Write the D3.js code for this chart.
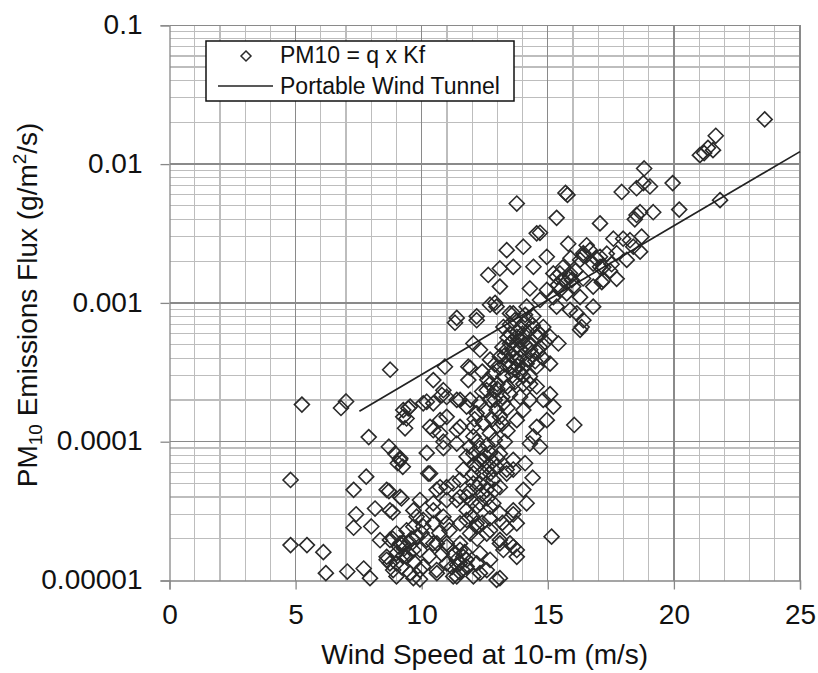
<!DOCTYPE html>
<html><head><meta charset="utf-8">
<script src="https://cdn.jsdelivr.net/npm/d3@7"></script>
<style>html,body{margin:0;padding:0;background:#fff;}svg{display:block;}text{font-family:"Liberation Sans",Arial,sans-serif;fill:#111;}</style>
</head><body>
<svg id="chart" width="818" height="673"></svg>
<script>
// ---- data ----
const xTickValues = [0, 5, 10, 15, 20, 25];
const yTickValues = [0.00001, 0.0001, 0.001, 0.01, 0.1];
const yTickLabels = ["0.00001", "0.0001", "0.001", "0.01", "0.1"];

const tunnelSpeed = [7.53, 10, 15, 20, 25];
const tunnelFlux = [1.66e-4, 3.05e-4, 1.05e-3, 3.59e-3, 1.23e-2];

const windSpeed = [
4.8,4.8,5.25,5.45,6.1,6.2,6.8,7.0,7.05,7.3,7.3,7.4,7.7,7.8,7.9,7.95,8.0,8.15,8.35,8.7,8.7,8.75,8.85,8.85,8.95,9.0,9.05,9.15,9.25,9.2,9.1,9.25,
9.27,9.47,9.4,9.34,10.46,10.2,10.8,10.92,11.85,11.85,11.52,10.99,10.46,10.2,10.26,10.86,10.73,11.52,11.39,12.05,11.78,11.65,12.05,12.31,12.71,12.84,12.58,12.05,11.25,10.73,10.46,10.99,11.52,11.78,12.31,12.84,13.1,13.37,13.63,13.63,13.37,13.77,13.5,13.1,12.71,12.18,11.52,10.99,10.46,10.06,9.8,9.8,9.4,9.14,9.0,9.4,9.93,10.46,10.99,11.52,11.78,11.52,12.18,12.58,13.1,12.05,11.25,10.6,9.93,9.67,9.0,8.74,8.61,15.15,16.05,14.03,14.16,
11.39,11.32,12.18,12.71,12.97,16.28,16.41,16.15,15.88,15.42,15.09,15.09,15.22,14.96,14.56,14.43,14.69,12.05,12.31,12.71,11.92,12.58,12.71,12.97,12.18,11.78,11.39,10.86,10.46,10.06,9.54,9.27,10.33,10.73,10.99,11.39,12.05,12.44,13.1,13.77,14.03,14.29,14.82,14.56,14.03,13.5,13.37,13.77,14.03,14.43,14.82,15.09,13.24,13.63,14.16,13.5,13.1,13.77,14.16,14.56,14.29,13.9,13.24,12.84,14.69,14.29,14.56,13.9,13.5,13.9,13.24,
13.77,15.7,15.78,15.35,17.07,14.56,15.81,16.54,14.03,13.37,14.96,14.43,13.63,13.1,12.64,13.1,14.29,15.35,15.88,16.41,17.07,17.6,17.2,16.8,16.28,16.8,16.34,15.35,15.75,12.18,12.91,11.92,13.5,14.69,14.96,
23.6,21.66,21.35,21.03,21.2,21.55,21.83,20.21,19.95,18.82,19.18,19.05,18.79,18.52,17.93,18.52,18.66,18.45,18.72,18.66,18.26,16.41,14.69,17.34,17.14,17.73,17.2,17.53,15.95,15.48,15.22,15.62,15.88,16.01,15.48,16.28,16.67,16.8,17.47,17.99,18.39,18.13,17.73,17.07,15.22,
9.14,10.33,10.86,12.05,12.18,12.44,12.71,12.97,13.37,13.63,13.1,14.29,12.31,12.58,12.84,11.52,10.99,10.59,11.39,11.78,12.18,12.71,13.1,13.63,13.77,8.61,9.14,8.74,10.06,10.46,10.86,11.78,12.18,12.58,13.1,13.63,13.77,9.67,9.0,8.74,9.27,9.67,10.2,10.6,10.99,11.52,11.39,11.65,11.78,10.99,10.59,10.06,9.54,8.87,8.61,12.31,12.31,12.97,12.71,13.24,9.93,11.39,11.92,9.93,9.67,
13.3,13.6,13.8,14.0,14.2,13.4,13.9,14.4,13.7,14.1,13.2,13.6,14.0,14.4,14.8,13.0,13.4,13.7,14.3,12.9,13.2,12.6,12.4,12.9,13.8,14.6,14.9,13.0,12.7,13.4,12.2,12.6,13.3,12.9,
12.4,12.6,12.2,12.9,11.9,12.0,9.5,9.7,10.3,10.8,11.2,11.5,14.1,14.4,
13.5,13.8,14.1,14.3,13.6,13.9,14.2,13.5,14.6,13.3,13.7,14.0,14.2,13.9,13.4,14.5,13.1,14.7,13.6,14.0,
12.5,12.8,13.2,12.3,12.9,13.4,12.4,12.1,13.0,12.7,
12.3,12.5,12.8,12.1,12.4,13.0,11.9,12.6,
9.3,9.5,9.2,9.6,11.4,11.6,11.7,11.3,12.2,12.4,12.0,12.7,13.2,10.0,10.7,11.1,
15.6,16.1,16.4,15.9,16.9,15.4
];
const pm10Flux = [
5.3e-5,1.8e-5,1.85e-4,1.8e-5,1.6e-5,1.13e-5,1.75e-4,1.95e-4,1.16e-5,4.5e-5,2.4e-5,3.0e-5,1.22e-5,5.6e-5,1.08e-4,1.04e-5,2.45e-5,3.3e-5,1.95e-5,9.2e-5,4.4e-5,3.3e-4,3.1e-5,2.0e-5,8.2e-5,1.33e-5,7.0e-5,7.6e-5,6.6e-5,3.9e-5,1.75e-5,1.5e-5,
1.69e-4,1.74e-4,1.47e-4,1.25e-4,2.78e-4,1.94e-4,2.17e-4,3.47e-4,3.47e-4,2.78e-4,2.0e-4,2.1e-4,1.21e-4,8.3e-5,5.9e-5,1.0e-4,1.15e-4,1.28e-4,9.7e-5,1.09e-4,7.8e-5,6.3e-5,5.9e-5,7.4e-5,8.3e-5,6.3e-5,5.0e-5,5.0e-5,5.0e-5,4.7e-5,3.6e-5,3.8e-5,4.0e-5,3.2e-5,3.6e-5,3.6e-5,4.7e-5,5.9e-5,6.3e-5,3.0e-5,2.4e-5,1.66e-5,1.85e-5,1.85e-5,2.3e-5,2.58e-5,2.58e-5,2.58e-5,2.58e-5,2.45e-5,2.88e-5,2.07e-5,2.3e-5,1.85e-5,1.57e-5,1.48e-5,1.66e-5,1.85e-5,1.85e-5,1.66e-5,1.41e-5,1.33e-5,1.33e-5,1.19e-5,1.04e-5,1.07e-5,1.07e-5,1.13e-5,1.19e-5,1.04e-5,1.07e-5,1.33e-5,1.48e-5,2.07e-5,1.32e-4,4.5e-5,3.6e-5,
7.8e-4,7.2e-4,7.5e-4,9.7e-4,9.4e-4,6.4e-4,7.5e-4,8.4e-4,8.9e-4,5.1e-4,3.65e-4,2.2e-4,1.79e-4,1.43e-4,1.28e-4,1.09e-4,9.2e-5,5.1e-4,4.6e-4,3.9e-4,2.0e-4,2.35e-4,2.0e-4,1.69e-4,1.6e-4,1.79e-4,2.0e-4,2.35e-4,1.89e-4,1.89e-4,1.79e-4,1.51e-4,1.28e-4,1.43e-4,1.51e-4,1.21e-4,1.28e-4,1.36e-4,1.51e-4,1.43e-4,1.69e-4,2.0e-4,2.0e-4,2.5e-4,2.6e-4,3.47e-4,4.6e-4,5.7e-4,7.1e-4,8.0e-4,6.7e-4,5.7e-4,6.7e-4,8.4e-4,9.4e-4,5.1e-4,4.1e-4,3.9e-4,3.65e-4,3.47e-4,2.95e-4,3.1e-4,2.95e-4,3.1e-4,4.8e-4,5.1e-4,5.7e-4,4.6e-4,2.2e-4,2.1e-4,1.89e-4,
5.2e-3,6.2e-3,6.0e-3,4.1e-3,3.74e-3,3.17e-3,2.67e-3,2.6e-3,2.54e-3,2.4e-3,2.15e-3,1.82e-3,1.82e-3,1.77e-3,1.59e-3,1.31e-3,1.27e-3,1.54e-3,1.54e-3,2.28e-3,2.15e-3,2.9e-3,1.46e-3,1.31e-3,1.1e-3,9.4e-4,6.7e-4,9.4e-4,1.17e-3,8.0e-4,1.0e-3,3.4e-4,8.4e-4,1.05e-3,1.24e-3,
0.021,0.016,0.0131,0.0116,0.012,0.0126,0.0055,0.0047,0.0073,0.0093,0.0045,0.0069,0.0073,0.0067,0.0063,0.0043,0.0045,0.0040,0.0030,0.00234,0.00283,0.0022,0.0032,0.00226,0.00141,0.00149,0.00181,0.0019,0.00146,0.00163,1.63e-3,1.46e-3,1.63e-3,1.31e-3,1.24e-3,2.04e-3,2.4e-3,1.92e-3,1.7e-3,2.9e-3,2.54e-3,2.04e-3,2.28e-3,1.82e-3,1.1e-3,
7.4e-5,5.9e-5,9.0e-5,8.2e-5,6.6e-5,7.4e-5,5.9e-5,6.6e-5,6.3e-5,7.4e-5,8.2e-5,9.7e-5,5.0e-5,4.5e-5,5.3e-5,5.3e-5,4.7e-5,4.5e-5,3.8e-5,4.0e-5,3.4e-5,3.4e-5,3.05e-5,3.2e-5,2.58e-5,4.5e-5,4.0e-5,3.2e-5,2.73e-5,3.2e-5,2.88e-5,2.73e-5,2.44e-5,2.18e-5,1.96e-5,1.75e-5,1.48e-5,2.44e-5,2.18e-5,1.96e-5,1.85e-5,1.66e-5,1.96e-5,1.85e-5,1.75e-5,1.85e-5,1.41e-5,1.48e-5,1.26e-5,1.33e-5,1.19e-5,1.26e-5,1.13e-5,1.19e-5,1.41e-5,1.57e-5,1.13e-5,1.01e-5,1.41e-5,1.66e-5,1.02e-5,1.07e-5,2.18e-5,3.8e-5,3.2e-5,
3.6e-4,4.2e-4,4.9e-4,5.5e-4,6.2e-4,5.6e-4,6.6e-4,6.9e-4,7.5e-4,8.2e-4,4.8e-4,3.0e-4,3.4e-4,4.2e-4,4.0e-4,2.6e-4,2.5e-4,2.7e-4,2.6e-4,2.3e-4,2.1e-4,2.8e-4,3.2e-4,3.6e-4,3.5e-4,4.4e-4,5.2e-4,1.3e-4,1.15e-4,1.2e-4,1.0e-4,9.5e-5,1.0e-4,1.03e-4,
4.2e-5,3.9e-5,4.7e-5,4.5e-5,4.4e-5,3.7e-5,1.9e-5,1.35e-5,1.5e-5,1.55e-5,1.25e-5,1.15e-5,7.0e-5,5.5e-5,
6.0e-4,6.2e-4,5.0e-4,4.6e-4,4.6e-4,5.4e-4,7.5e-4,7.0e-4,6.2e-4,4.2e-4,3.3e-4,3.0e-4,3.9e-4,4.0e-4,3.8e-4,3.8e-4,3.4e-4,5.9e-4,5.3e-4,6.0e-4,
1.7e-4,1.45e-4,1.35e-4,1.9e-4,2.0e-4,1.75e-4,2.3e-4,1.45e-4,2.4e-4,2.6e-4,
9.0e-5,8.0e-5,7.2e-5,6.8e-5,6.0e-5,7.6e-5,9.2e-5,6.6e-5,
1.7e-5,1.55e-5,1.25e-5,2.0e-5,1.3e-5,1.2e-5,1.6e-5,1.55e-5,2.0e-5,2.6e-5,2.9e-5,2.8e-5,2.6e-5,2.2e-5,2.2e-5,2.3e-5,
1.8e-3,1.7e-3,1.5e-3,2.1e-3,2.1e-3,1.35e-3
];

const legendLabels = ["PM10 = q x Kf", "Portable Wind Tunnel"];

// ---- drawing ----
const svg = d3.select("#chart");
const x = d3.scaleLinear().domain([0, 25]).range([169.5, 800]);
const y = d3.scaleLog().domain([1e-5, 0.1]).range([580.5, 25.3]);
const [x0, x1] = x.range();
const [yb, yt] = y.range();

const grid = svg.append("g").attr("shape-rendering", "crispEdges");
const yMinor = y.ticks().filter(v => !yTickValues.some(t => Math.abs(t - v) / t < 1e-6));
grid.selectAll("line.hmin").data(yMinor).join("line")
  .attr("x1", x0).attr("x2", x1).attr("y1", d => y(d)).attr("y2", d => y(d))
  .attr("stroke", "#bdbdbd").attr("stroke-width", 1.2);
const xMinor = d3.range(1, 25).filter(v => v % 5 !== 0);
grid.selectAll("line.vmin").data(xMinor).join("line")
  .attr("x1", d => x(d)).attr("x2", d => x(d)).attr("y1", yt).attr("y2", yb)
  .attr("stroke", "#bdbdbd").attr("stroke-width", 1.2);
grid.selectAll("line.hmaj").data(yTickValues.slice(1)).join("line")
  .attr("x1", x0).attr("x2", x1).attr("y1", d => y(d)).attr("y2", d => y(d))
  .attr("stroke", "#8a8a8a").attr("stroke-width", 1.3);
grid.selectAll("line.vmaj").data(xTickValues.slice(1)).join("line")
  .attr("x1", d => x(d)).attr("x2", d => x(d)).attr("y1", yt).attr("y2", yb)
  .attr("stroke", "#8a8a8a").attr("stroke-width", 1.3);

// axes
const yAxis = d3.axisLeft(y).tickValues(yTickValues).tickSize(9).tickFormat((d, i) => yTickLabels[i]);
const gy = svg.append("g").attr("transform", `translate(${x0},0)`).call(yAxis);
gy.select(".domain").attr("stroke", "#888").attr("stroke-width", 1.3);
gy.selectAll(".tick line").attr("stroke", "#888").attr("stroke-width", 1.3);
gy.selectAll(".tick text").attr("x", -27).attr("dy", "0.29em")
  .style("font-size", "28px").style("font-family", '"Liberation Sans",Arial,sans-serif').attr("fill", "#111");

const xAxis = d3.axisBottom(x).tickValues(xTickValues).tickSize(9).tickFormat(d3.format("d"));
const gx = svg.append("g").attr("transform", `translate(0,${yb})`).call(xAxis);
gx.select(".domain").attr("stroke", "#888").attr("stroke-width", 1.3);
gx.selectAll(".tick line").attr("stroke", "#888").attr("stroke-width", 1.3);
gx.selectAll(".tick text").attr("y", 24).attr("dy", "0.71em")
  .style("font-size", "28px").style("font-family", '"Liberation Sans",Arial,sans-serif').attr("fill", "#111");

// points
const pts = windSpeed.map((u, i) => [u, pm10Flux[i]]);
const diamond = r => `M0,${-r}L${r},0L0,${r}L${-r},0Z`;
svg.append("g").selectAll("path").data(pts).join("path")
  .attr("transform", d => `translate(${x(d[0])},${y(d[1])})`)
  .attr("d", diamond(7.5))
  .attr("fill", "none").attr("stroke", "#2a2a2a").attr("stroke-width", 1.6);

// wind tunnel line
const line = d3.line().x(d => x(d[0])).y(d => y(d[1]));
svg.append("path").datum(tunnelSpeed.map((u, i) => [u, tunnelFlux[i]]))
  .attr("d", line).attr("fill", "none").attr("stroke", "#222").attr("stroke-width", 1.7);

// axis titles
svg.append("text").attr("x", (x0 + x1) / 2).attr("y", 664).attr("text-anchor", "middle")
  .style("font-size", "28px").text("Wind Speed at 10-m (m/s)");

const yt1 = svg.append("text").attr("transform", `translate(37,${(yb + yt) / 2 + 2}) rotate(-90)`)
  .attr("text-anchor", "middle").style("font-size", "28px");
yt1.append("tspan").text("PM");
yt1.append("tspan").attr("dy", 5).style("font-size", "19px").text("10");
yt1.append("tspan").attr("dy", -5).text(" Emissions Flux (g/m");
yt1.append("tspan").attr("dy", -11).style("font-size", "19px").text("2");
yt1.append("tspan").attr("dy", 11).text("/s)");

// legend
const lg = svg.append("g");
lg.append("rect").attr("x", 206).attr("y", 41).attr("width", 308).attr("height", 60)
  .attr("fill", "#fff").attr("stroke", "#111").attr("stroke-width", 1.5);
lg.append("path").attr("transform", "translate(246,56)").attr("d", diamond(5))
  .attr("fill", "none").attr("stroke", "#2a2a2a").attr("stroke-width", 1.5);
lg.append("line").attr("x1", 218).attr("x2", 273).attr("y1", 86).attr("y2", 86)
  .attr("stroke", "#222").attr("stroke-width", 1.6);
lg.selectAll("text").data(legendLabels).join("text")
  .attr("x", 280).attr("y", (d, i) => 63 + i * 31)
  .style("font-size", "23px").text(d => d);
</script>
</body></html>
